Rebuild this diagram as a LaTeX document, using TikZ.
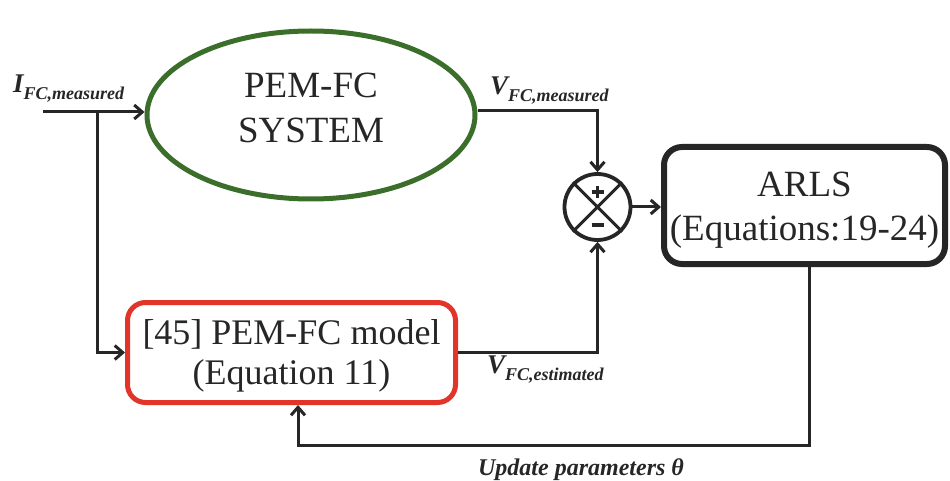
\documentclass[tikz,border=0pt]{standalone}
\usepackage{fontspec}
\setmainfont{Liberation Serif}
\usetikzlibrary{arrows.meta,shapes.geometric}

\definecolor{fcgreen}{RGB}{58,110,42}
\definecolor{fcred}{RGB}{226,52,40}
\definecolor{ink}{RGB}{38,38,38}

% signal label: big bold italic letter with a lowered subscript
\newcommand\siglabel[2]{{\fontsize{27}{27}\selectfont\bfseries\itshape #1}\raisebox{-7pt}{\fontsize{18}{18}\selectfont\bfseries\itshape #2}}

\begin{document}
\begin{tikzpicture}[x=1pt,y=-1pt,
  conn/.style={draw=ink,line width=3pt,-{Straight Barb[length=8pt,width=14pt]}},
  bigtext/.style={text=ink,align=center,inner sep=0pt},
  sig/.style={text=ink,inner sep=0pt}]
\useasboundingbox (0,0) rectangle (950,481);

% blocks
\node[ellipse,draw=fcgreen,line width=5pt,minimum width=328pt,minimum height=168pt,inner sep=0pt] (sys) at (311,115) {};
\node[bigtext,font=\fontsize{37}{45}\selectfont] (systxt) at (311,108) {PEM-FC\\SYSTEM};

\node[rectangle,rounded corners=18pt,draw=fcred,line width=5pt,minimum width=328pt,minimum height=100pt,inner sep=0pt] (model) at (291.5,352.5) {};
\node[bigtext,font=\fontsize{36}{40}\selectfont] (modeltxt) at (291.5,356) {[45] PEM-FC model\\(Equation 11)};

\node[rectangle,rounded corners=18pt,draw=ink,line width=6pt,minimum width=281pt,minimum height=117pt,inner sep=0pt] (arls) at (804.5,205.5) {};
\node[bigtext,font=\fontsize{37}{44}\selectfont] (arlstxt) at (804.5,210) {ARLS\\(Equations:19-24)};

% summing junction
\node[circle,draw=ink,line width=3.8pt,minimum size=66pt,inner sep=0pt] (sum) at (597.5,207) {};
\draw[ink,line width=3pt] (sum.45) -- (sum.225) (sum.135) -- (sum.315);
\draw[ink,line width=3.4pt] ([shift={(-6,-15)}]sum.center) -- ([shift={(6,-15)}]sum.center)
  ([shift={(0,-21)}]sum.center) -- ([shift={(0,-9)}]sum.center);
\draw[ink,line width=3.4pt] ([shift={(-6,18)}]sum.center) -- ([shift={(6,18)}]sum.center);

% input current and branch to the model
\coordinate (in) at (43,112);
\coordinate (br) at (97,112);
\draw[conn] (in) -- (in -| sys.west);
\draw[conn] (br) |- (model.west);

% measured and estimated voltages into the junction
\coordinate (vm) at (sys.east |- 0,111);
\draw[conn] (vm) -| (sum.north);
\draw[conn] (model.east) -| (sum.south);
\draw[conn] (sum.east) -- (sum.east -| arls.west);

% parameter feedback
\coordinate (fbr) at (809,445);
\coordinate (fbl) at (298,445);
\draw[conn] (fbr |- arls.south) -- (fbr) -- (fbl) -- (fbl |- model.south);

% signal labels
\node[sig,anchor=base west] (ilab) at (13,93) {\siglabel{I}{FC,measured}};
\node[sig,anchor=base west] (vmlab) at (490,95) {\siglabel{V}{FC,measured}};
\node[sig,anchor=base west] (velab) at (487,373) {\siglabel{V}{FC,estimated}};
\node[sig,anchor=base,font=\fontsize{24}{24}\selectfont\bfseries\itshape] (uplab) at (581,475) {Update parameters θ};
\end{tikzpicture}
\end{document}
